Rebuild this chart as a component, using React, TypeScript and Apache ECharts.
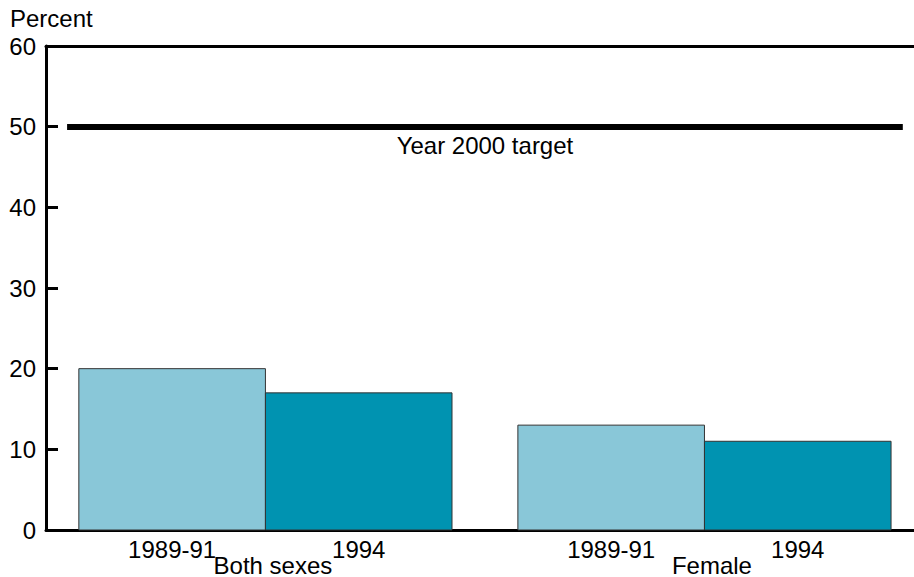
import React, { useEffect, useRef } from "react";
import * as echarts from "echarts";

const groups = ["Both sexes", "Female"];
const periods = ["1989-91", "1994"];
const bothSexes = [20, 17];
const female = [13, 11];
const targetValue = 50;
const targetLabel = "Year 2000 target";
const yAxisTitle = "Percent";

const GAP = 0.353; // gap between groups, in bar widths
const LEFT_PAD = 0.176;
const RIGHT_PAD = 0.123;
const COLORS = ["#89C7D8", "#0093B1"];
const FONT = "Liberation Sans, Arial, sans-serif";
const FS = 24;

export default function App() {
  const ref = useRef<HTMLDivElement>(null);
  useEffect(() => {
    document.body.style.margin = "0";
    const chart = echarts.init(ref.current!, null, { renderer: "svg" });
    const values = [bothSexes, female];
    const data: number[][] = [];
    values.forEach((vals, g) => vals.forEach((v, b) => data.push([g, b, v])));
    const xMax = 2 * 2 + GAP + RIGHT_PAD;
    const lineStart = -LEFT_PAD + 0.113;
    const lineEnd = xMax - 0.06;
    chart.setOption({
      animation: false,
      textStyle: { fontFamily: FONT },
      grid: { left: 46, right: 0, top: 46, bottom: 47 },
      xAxis: [
        {
          type: "value",
          min: -LEFT_PAD,
          max: xMax,
          axisLine: { show: true, onZero: false, lineStyle: { color: "#000", width: 3 } },
          axisTick: { show: false },
          axisLabel: { show: false },
          splitLine: { show: false },
        },
        {
          type: "value",
          position: "top",
          min: -LEFT_PAD,
          max: xMax,
          axisLine: { show: true, onZero: false, lineStyle: { color: "#000", width: 3 } },
          axisTick: { show: false },
          axisLabel: { show: false },
          splitLine: { show: false },
        },
      ],
      yAxis: {
        type: "value",
        min: 0,
        max: 60,
        interval: 10,
        axisLine: { show: true, onZero: false, lineStyle: { color: "#000", width: 3 } },
        axisTick: { show: true, inside: true, length: 12, lineStyle: { color: "#000", width: 3 } },
        axisLabel: { color: "#000", fontSize: FS, margin: 10, fontFamily: FONT },
        splitLine: { show: false },
      },
      graphic: [
        {
          type: "text",
          left: 10,
          top: 6,
          style: { text: yAxisTitle, fontSize: FS, fill: "#000", fontFamily: FONT },
        },
      ],
      series: [
        {
          type: "custom",
          clip: false,
          data,
          renderItem: (params: any, api: any) => {
            const g = api.value(0);
            const b = api.value(1);
            const v = api.value(2);
            const groupStart = g * (2 + GAP);
            const xs = groupStart + b;
            const p0 = api.coord([xs, v]);
            const p1 = api.coord([xs + 1, 0]);
            const children: any[] = [
              {
                type: "rect",
                shape: { x: p0[0], y: p0[1], width: p1[0] - p0[0], height: p1[1] - p0[1] },
                style: { fill: COLORS[b], stroke: "#333", lineWidth: 1 },
              },
              {
                type: "text",
                x: (p0[0] + p1[0]) / 2,
                y: p1[1] + 19,
                style: {
                  text: periods[b],
                  fontSize: FS,
                  fill: "#000",
                  fontFamily: FONT,
                  align: "center",
                  verticalAlign: "middle",
                },
              },
            ];
            if (b === 0) {
              const c = api.coord([groupStart + 1.04, 0]);
              children.push({
                type: "text",
                x: c[0],
                y: c[1] + 35,
                style: {
                  text: groups[g],
                  fontSize: FS,
                  fill: "#000",
                  fontFamily: FONT,
                  align: "center",
                  verticalAlign: "middle",
                },
              });
            }
            return { type: "group", children };
          },
          markLine: {
            silent: true,
            symbol: "none",
            lineStyle: { color: "#000", width: 6, type: "solid" },
            label: {
              show: true,
              position: "insideMiddleBottom",
              formatter: targetLabel,
              color: "#000",
              fontSize: FS,
              fontFamily: FONT,
              distance: 7,
            },
            data: [
              [
                { coord: [lineStart, targetValue] },
                { coord: [lineEnd, targetValue] },
              ],
            ],
          },
        },
      ],
    });
    return () => chart.dispose();
  }, []);
  return <div ref={ref} style={{ width: 914, height: 577 }} />;
}
